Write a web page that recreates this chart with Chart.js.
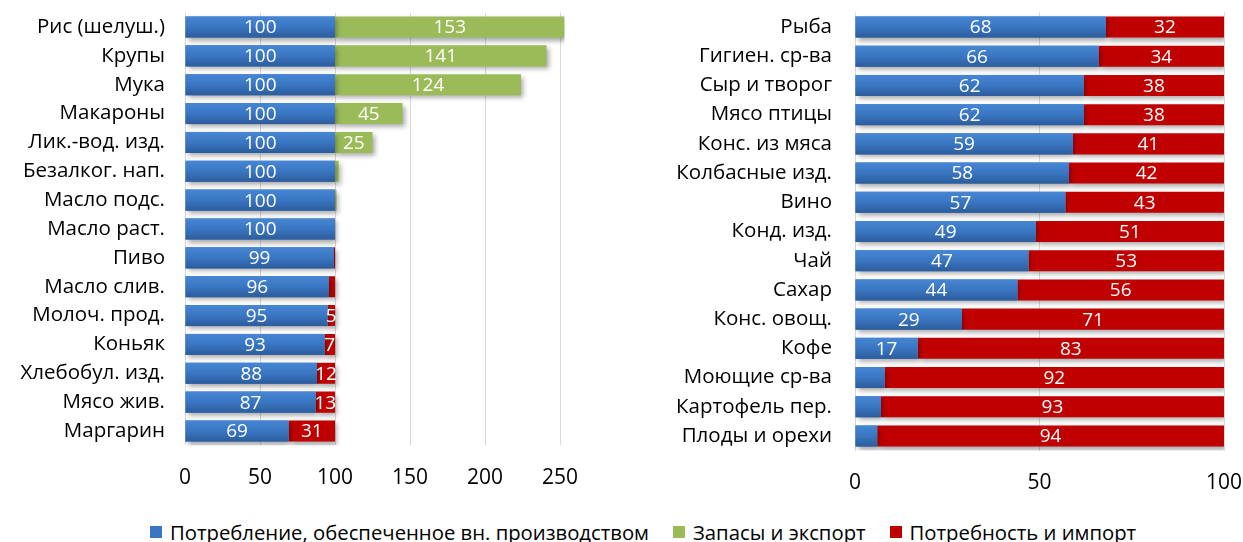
<!DOCTYPE html>
<html>
<head>
<meta charset="utf-8">
<script src="https://cdn.jsdelivr.net/npm/chart.js@4/dist/chart.umd.min.js"></script>
<style>
  html, body { margin: 0; padding: 0; background: #fff; }
  body { width: 1243px; height: 542px; position: relative; overflow: hidden; font-family: "Open Sans", sans-serif; }
  #leftWrap { position: absolute; left: 0; top: 0; width: 600px; height: 500px; }
  #rightWrap { position: absolute; left: 620px; top: 0; width: 623px; height: 500px; }
  #legend { position: absolute; left: 150px; top: 519px; height: 26px; display: flex; align-items: center; font-size: 20.3px; color: #000; white-space: nowrap; }
  .item { display: flex; align-items: center; margin-right: 24px; }
  .box { width: 12px; height: 12px; margin-right: 8px; }
</style>
</head>
<body>
<div id="leftWrap"><canvas id="left"></canvas></div>
<div id="rightWrap"><canvas id="right"></canvas></div>
<div id="legend"></div>
<script>
// ---- data ----
const seriesNames = ['Потребление, обеспеченное вн. производством', 'Запасы и экспорт', 'Потребность и импорт'];

const leftCategories = ['Рис (шелуш.)', 'Крупы', 'Мука', 'Макароны', 'Лик.-вод. изд.', 'Безалког. нап.', 'Масло подс.', 'Масло раст.', 'Пиво', 'Масло слив.', 'Молоч. прод.', 'Коньяк', 'Хлебобул. изд.', 'Мясо жив.', 'Маргарин'];
const leftDomestic = [100, 100, 100, 100, 100, 100, 100, 100, 99, 96, 95, 93, 88, 87, 69];
const leftStocks   = [153, 141, 124, 45, 25, 2.5, 1, 0, 0, 0, 0, 0, 0, 0, 0];
const leftImport   = [0, 0, 0, 0, 0, 0, 0, 0, 1, 4, 5, 7, 12, 13, 31];
const leftTicks = [0, 50, 100, 150, 200, 250];

const rightCategories = ['Рыба', 'Гигиен. ср-ва', 'Сыр и творог', 'Мясо птицы', 'Конс. из мяса', 'Колбасные изд.', 'Вино', 'Конд. изд.', 'Чай', 'Сахар', 'Конс. овощ.', 'Кофе', 'Моющие ср-ва', 'Картофель пер.', 'Плоды и орехи'];
const rightDomestic = [68, 66, 62, 62, 59, 58, 57, 49, 47, 44, 29, 17, 8, 7, 6];
const rightImport   = [32, 34, 38, 38, 41, 42, 43, 51, 53, 56, 71, 83, 92, 93, 94];
const rightTicks = [0, 50, 100];

// ---- styles ----
const BLUE = '#3A76C2', GREEN = '#9BBB59', RED = '#C00000';
const FONT = '"Open Sans", sans-serif';

// legend
const legendColors = [BLUE, GREEN, RED];
const lg = document.getElementById('legend');
seriesNames.forEach((n, i) => {
  const it = document.createElement('div'); it.className = 'item';
  const b = document.createElement('div'); b.className = 'box'; b.style.background = legendColors[i];
  const t = document.createElement('span'); t.textContent = n;
  it.appendChild(b); it.appendChild(t); lg.appendChild(it);
});

const shadowPlugin = {
  id: 'shadow',
  beforeDatasetsDraw(chart) {
    const c = chart.ctx; c.save();
    c.shadowColor = 'rgba(0,0,0,0.35)'; c.shadowBlur = 5; c.shadowOffsetX = 2; c.shadowOffsetY = 3;
  },
  afterDatasetsDraw(chart) {
    const c = chart.ctx; c.restore();
    const meta = chart.getDatasetMeta(0);
    meta.data.forEach(el => {
      const p = el.getProps(['x', 'y', 'base', 'height'], true);
      const top = p.y - p.height / 2, bot = p.y + p.height / 2;
      const g = c.createLinearGradient(0, top, 0, bot);
      g.addColorStop(0, '#4686D4'); g.addColorStop(0.5, '#3A76C2'); g.addColorStop(1, '#2C5C9C');
      c.fillStyle = g;
      const l = Math.min(p.x, p.base), w = Math.abs(p.x - p.base);
      c.fillRect(l, top, w, p.height);
    });
    const th = chart.options.plugins.valueLabels.threshold;
    c.save();
    c.font = '19px ' + FONT; c.fillStyle = '#fff'; c.textAlign = 'center'; c.textBaseline = 'middle';
    chart.data.datasets.forEach((ds, di) => {
      const m = chart.getDatasetMeta(di);
      m.data.forEach((el, i) => {
        const v = ds.data[i];
        if (v >= th[di]) {
          const p = el.getProps(['x', 'y', 'base'], true);
          c.fillText(String(v), (p.x + p.base) / 2, p.y + 1);
        }
      });
    });
    c.restore();
  }
};

function makeChart(id, cats, datasets, ticks, max, yWidth, xHeight, padTop, padRight, labelPad, th, barPct) {
  return new Chart(document.getElementById(id), {
    type: 'bar',
    data: { labels: cats, datasets },
    plugins: [shadowPlugin],
    options: {
      indexAxis: 'y', responsive: true, maintainAspectRatio: false, animation: false,
      layout: { padding: { top: padTop, right: padRight, left: 0, bottom: 0 } },
      datasets: { bar: { categoryPercentage: 1, barPercentage: barPct, borderWidth: 0 } },
      plugins: { legend: { display: false }, tooltip: { enabled: false }, valueLabels: { threshold: th } },
      scales: {
        x: {
          stacked: true, min: 0, max: max,
          afterFit(s) { s.height = xHeight; s.paddingLeft = 0; s.paddingRight = 0; s.paddingTop = 0; s.paddingBottom = 0; },
          afterBuildTicks(s) { s.ticks = ticks.map(v => ({ value: v })); },
          grid: { color: '#D9D9D9', lineWidth: 1, drawTicks: false },
          border: { display: false },
          ticks: { font: { family: FONT, size: 21 }, color: '#000', padding: 20, maxRotation: 0 }
        },
        y: {
          stacked: true,
          afterFit(s) { s.width = yWidth; s.paddingLeft = 0; s.paddingRight = 0; s.paddingTop = 0; s.paddingBottom = 0; },
          grid: { display: false, drawTicks: false },
          border: { display: false },
          ticks: { font: { family: FONT, size: 20.5 }, color: '#000', padding: labelPad, autoSkip: false }
        }
      }
    }
  });
}

makeChart('left', leftCategories, [
  { label: seriesNames[0], data: leftDomestic, backgroundColor: BLUE },
  { label: seriesNames[1], data: leftStocks, backgroundColor: GREEN },
  { label: seriesNames[2], data: leftImport, backgroundColor: RED }
], leftTicks, 253, 185, 54.6, 12.6, 35.5, 20, [5, 5, 5], 0.73);

makeChart('right', rightCategories, [
  { label: seriesNames[0], data: rightDomestic, backgroundColor: BLUE },
  { label: seriesNames[2], data: rightImport, backgroundColor: RED }
], rightTicks, 100, 235, 49.4, 12.4, 19, 23, [10, 10], 0.72);
</script>
</body>
</html>
